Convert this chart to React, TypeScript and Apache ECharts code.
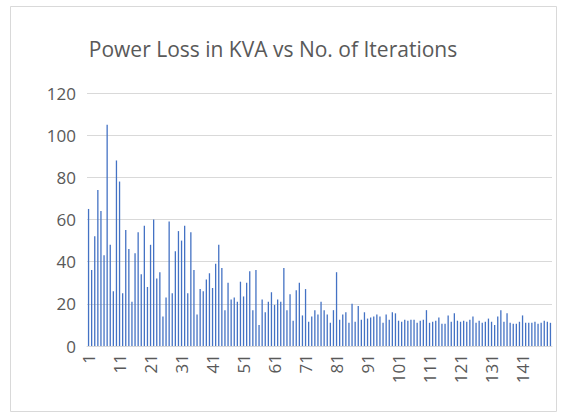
import React, { useEffect, useRef } from "react";
import * as echarts from "echarts";

const titleText = "Power Loss in KVA vs No. of Iterations";

const powerLoss: number[] = [
  65, 36, 52, 74, 64, 43, 105, 48, 26, 88,
  78, 25, 55, 46, 21, 44, 54, 34, 57, 28,
  48, 60, 32, 35, 14, 23, 59, 25, 45, 54.5,
  50, 57, 25, 54, 36, 15, 27, 26, 31.5, 34.5,
  27.5, 39, 48, 37, 17, 30, 22, 23, 21, 30.5,
  23.5, 30, 35.5, 17, 36, 10, 22, 16, 21, 25.5,
  19.5, 22, 21, 37, 17, 24.5, 12, 26.5, 30, 14.5,
  27, 11.5, 14, 17, 15, 21, 17, 15, 11, 17,
  35, 12.5, 15, 16, 11, 20, 11.5, 19, 12.5, 16,
  13, 13.5, 14, 15, 14, 11, 15, 12.5, 16, 15.5,
  12, 11.5, 12.5, 12, 12.5, 12.5, 11, 12, 12.5, 17,
  11, 11.5, 12, 13.5, 10.5, 10.5, 14.5, 11.5, 15.5, 12,
  11.5, 12, 11.5, 12.5, 14, 11, 12, 11, 11.5, 13,
  11.5, 10, 14, 17, 11.5, 15.5, 11, 10.5, 10.5, 11.5,
  14.5, 11, 11, 11, 11.5, 10.5, 11, 12, 11.5, 11,
];

const iterations: string[] = powerLoss.map((_, i) => String(i + 1));

const yMin = 0;
const yMax = 120;
const yStep = 20;

export default function App() {
  const ref = useRef<HTMLDivElement>(null);

  useEffect(() => {
    if (!ref.current) return;
    const chart = echarts.init(ref.current, null, { renderer: "svg" });
    const font = "'Open Sans', 'Liberation Sans', sans-serif";
    chart.setOption({
      animation: false,
      backgroundColor: "#ffffff",
      title: {
        text: titleText,
        left: 268,
        top: 33,
        textAlign: "center",
        textStyle: {
          fontFamily: font,
          fontSize: 21,
          fontWeight: "normal",
          color: "#595959",
        },
      },
      graphic: [
        {
          type: "rect",
          shape: { x: 10.5, y: 6.5, width: 546, height: 405 },
          style: { fill: "none", stroke: "#d9d9d9", lineWidth: 1 },
          silent: true,
        },
      ],
      grid: { left: 87, right: 15, top: 93, bottom: 70, containLabel: false },
      xAxis: {
        type: "category",
        data: iterations,
        boundaryGap: true,
        axisLine: { show: true, lineStyle: { color: "#d9d9d9", width: 1 } },
        axisTick: { show: false },
        axisLabel: {
          interval: 9,
          rotate: 90,
          margin: 8,
          fontFamily: font,
          fontSize: 17,
          color: "#595959",
        },
      },
      yAxis: {
        type: "value",
        min: yMin,
        max: yMax,
        interval: yStep,
        axisLine: { show: false },
        axisTick: { show: false },
        splitLine: { lineStyle: { color: "#d9d9d9", width: 1 } },
        axisLabel: {
          margin: 11,
          fontFamily: font,
          fontSize: 17,
          color: "#595959",
        },
      },
      series: [
        {
          type: "bar",
          data: powerLoss,
          barWidth: 1.3,
          itemStyle: { color: "#4472C4" },
        },
      ],
    });
    return () => chart.dispose();
  }, []);

  return (
    <div
      ref={ref}
      style={{ position: "absolute", left: 0, top: 0, width: 567, height: 416 }}
    />
  );
}
